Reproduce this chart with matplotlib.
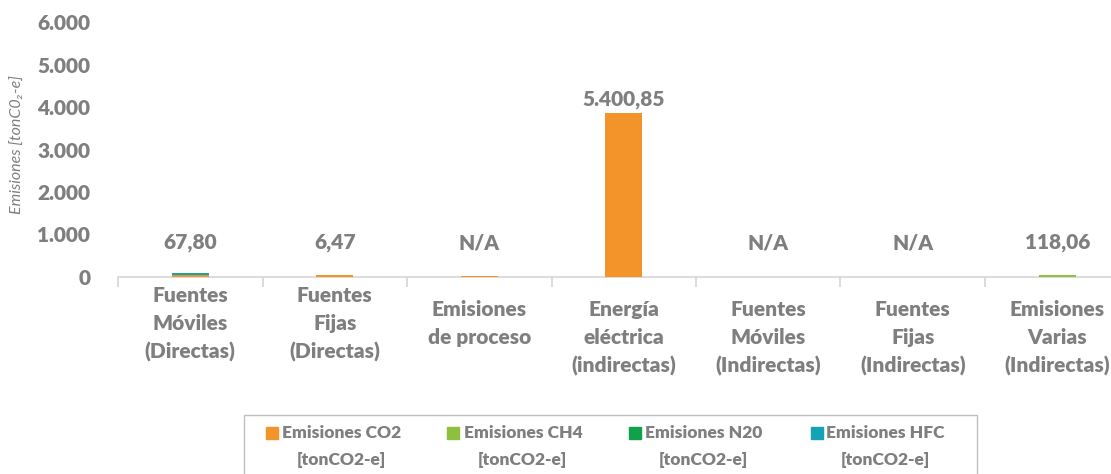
import numpy as np
import matplotlib.pyplot as plt
from matplotlib.patches import Rectangle

plt.rcParams['font.family'] = ['Lato', 'DejaVu Sans']

# categorias del eje x
categorias = ["Fuentes\nMóviles\n(Directas)", "Fuentes\nFijas\n(Directas)",
              "Emisiones\nde proceso", "Energía\neléctrica\n(indirectas)",
              "Fuentes\nMóviles\n(Indirectas)", "Fuentes\nFijas\n(Indirectas)",
              "Emisiones\nVarias\n(Indirectas)"]

# valores (altura visible de cada barra apilada)
co2 = [55, 40, 17, 3870, 0, 0, 0]
ch4 = [0, 0, 0, 0, 0, 0, 40]
n2o = [0, 0, 0, 0, 0, 0, 0]
hfc = [40, 0, 0, 0, 0, 0, 0]

# etiquetas de datos tal como aparecen
etiquetas = ["67,80", "6,47", "N/A", "5.400,85", "N/A", "N/A", "118,06"]

nombres = ["Emisiones CO2", "Emisiones CH4", "Emisiones N20", "Emisiones HFC"]
colores = ["#F3942B", "#8DC041", "#0FA24B", "#12A3B5"]
gris = "#7F7F7F"
peso = 'heavy'

W, H = 1111, 474
fig = plt.figure(figsize=(W / 100, H / 100), dpi=100)
ax = fig.add_axes([118 / W, 197 / H, 1011.5 / W, 255 / H])

x = np.arange(len(categorias))
base = np.zeros(len(categorias))
for serie, color in zip([co2, ch4, n2o, hfc], colores):
    ax.bar(x, serie, width=0.256, bottom=base, color=color, zorder=3)
    base += np.array(serie)

ax.set_xlim(-0.5, 6.5)
ax.set_ylim(0, 6000)
yt = np.arange(0, 6001, 1000)
ax.set_yticks(yt)
ax.set_yticklabels([f"{v:,.0f}".replace(",", ".") for v in yt],
                   fontsize=15, fontweight=peso, color=gris)
ax.tick_params(axis='y', length=0, pad=20)

for s in ['top', 'right', 'left']:
    ax.spines[s].set_visible(False)
ax.spines['bottom'].set_color('#D9D9D9')
ax.spines['bottom'].set_linewidth(1.3)

ax.set_xticks([])
ax.set_xticks(np.arange(-0.5, 7), minor=True)
ax.tick_params(axis='x', which='minor', length=7, width=1.3, color='#D9D9D9',
               labelbottom=False)

# etiquetas de categoria
for i, cat in enumerate(categorias):
    off = 9 if i < 2 else 23
    ax.annotate(cat, xy=(i, 0), xycoords=('data', 'axes fraction'),
                xytext=(0, -off), textcoords='offset pixels',
                ha='center', va='top', fontsize=15, fontweight=peso,
                color=gris, linespacing=1.55, annotation_clip=False)

# etiquetas de datos
for i, et in enumerate(etiquetas):
    ax.text(i, max(base[i] + 300, 800), et, ha='center', va='center',
            fontsize=15, fontweight=peso, color=gris)

fig.text(18 / W, 1 - 145 / H, "Emisiones [tonC0₂-e]", rotation=90,
         style='italic', fontsize=11.5, ha='center', va='center', color=gris)

# leyenda
fig.patches.append(Rectangle((244 / W, -0.1), (977 - 244) / W, 0.1 + (H - 415) / H,
                             transform=fig.transFigure, fill=False,
                             edgecolor='#BFBFBF', lw=1))
renderer = fig.canvas.get_renderer()
for i, (nom, color) in enumerate(zip(nombres, colores)):
    xs = 266 + i * 181.5
    fig.patches.append(Rectangle((xs / W, 1 - 439 / H), 12 / W, 12 / H,
                                 transform=fig.transFigure, color=color))
    t1 = fig.text((xs + 16) / W, 1 - 433 / H, nom, ha='left', va='center',
                  fontsize=12.5, fontweight=peso, color=gris)
    bb = t1.get_window_extent(renderer)
    cx = (bb.x0 + bb.x1) / 2 / W
    fig.text(cx, 1 - 460 / H, "[tonCO2-e]", ha='center', va='center',
             fontsize=12.5, fontweight=peso, color=gris)

fig.savefig("out.png", dpi=100)
